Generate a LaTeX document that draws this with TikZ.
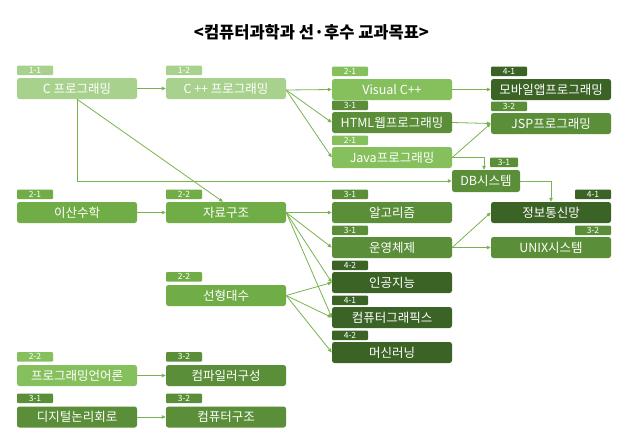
\documentclass[tikz,border=0pt]{standalone}
\usepackage{fontspec}
\setmainfont{Noto Sans CJK KR}
\usetikzlibrary{arrows.meta,calc}
\definecolor{yA}{HTML}{A9D18E}
\definecolor{yB}{HTML}{86C05C}
\definecolor{yBB}{HTML}{70AD47}
\definecolor{yC}{HTML}{5A8E38}
\definecolor{yD}{HTML}{3B6326}
\definecolor{ln}{HTML}{78B44E}
\begin{document}
\begin{tikzpicture}[x=1pt,y=-1pt,
  box/.style={rounded corners=2.5pt, minimum width=120pt, minimum height=21pt, inner sep=0pt, text=white, font=\fontsize{12.5}{13}\selectfont},
  tagbox/.style={rounded corners=1pt, minimum width=36pt, minimum height=9.5pt, inner sep=0pt, text=white, font=\fontsize{8.5}{8.5}\selectfont},
  arr/.style={draw=ln, line width=0.8pt, -{Triangle[length=4pt,width=3.5pt]}},
]
\useasboundingbox[fill=white] (0,0) rectangle (631,442);
\node[font=\bfseries\fontsize{16.5}{17}\selectfont] (title) at (311.5,32) {<컴퓨터과학과 선·후수 교과목표>};

\node[box, fill=yA] (c) at (77,88.5) {C 프로그래밍};
\node[box, fill=yA] (cpp) at (226,88.5) {C ++ 프로그래밍};
\node[box, fill=yB] (vc) at (392,89.5) {Visual C++};
\node[box, fill=yD] (mob) at (551,89.5) {모바일앱프로그래밍};
\node[box, fill=yC] (html) at (392,122.5) {HTML웹프로그래밍};
\node[box, fill=yC] (jsp) at (551,123.5) {JSP프로그래밍};
\node[box, fill=yB] (java) at (392,157.5) {Java프로그래밍};
\node[box, fill=yC, minimum width=68pt, minimum height=22pt] (db) at (486,181) {DB시스템};
\node[box, fill=yBB] (dm) at (77,212.5) {이산수학};
\node[box, fill=yBB] (ds) at (226,212.5) {자료구조};
\node[box, fill=yC] (algo) at (392,212.5) {알고리즘};
\node[box, fill=yD] (net) at (551,212.5) {정보통신망};
\node[box, fill=yC] (os) at (392,247.5) {운영체제};
\node[box, fill=yC] (unix) at (551,247.5) {UNIX시스템};
\node[box, fill=yD] (ai) at (392,282.5) {인공지능};
\node[box, fill=yBB] (la) at (226,295.5) {선형대수};
\node[box, fill=yD] (cg) at (392,317.5) {컴퓨터그래픽스};
\node[box, fill=yD] (ml) at (392,352.5) {머신러닝};
\node[box, fill=yB] (pl) at (77,375.5) {프로그래밍언어론};
\node[box, fill=yC] (comp) at (226,375.5) {컴파일러구성};
\node[box, fill=yC] (dl) at (77,417) {디지털논리회로};
\node[box, fill=yC] (arch) at (226,417) {컴퓨터구조};

\node[tagbox, fill=yA, anchor=south west] (tc) at ([yshift=2.5pt]c.north west) {1-1};
\node[tagbox, fill=yA, anchor=south west] (tcpp) at ([yshift=2.5pt]cpp.north west) {1-2};
\node[tagbox, fill=yB, anchor=south west] (tvc) at ([yshift=2.5pt]vc.north west) {2-1};
\node[tagbox, fill=yD, anchor=south west] (tmob) at ([yshift=2.5pt]mob.north west) {4-1};
\node[tagbox, fill=yC, anchor=south west] (thtml) at ([yshift=1.5pt]html.north west) {3-1};
\node[tagbox, fill=yC, anchor=south west] (tjsp) at ([yshift=1.5pt]jsp.north west) {3-2};
\node[tagbox, fill=yB, anchor=south west] (tjava) at ([yshift=1.5pt]java.north west) {2-1};
\node[tagbox, fill=yC, anchor=south east, minimum width=28pt] (tdb) at ([xshift=-2pt,yshift=2.5pt]db.north east) {3-1};
\node[tagbox, fill=yBB, anchor=south west] (tdm) at ([yshift=2.5pt]dm.north west) {2-1};
\node[tagbox, fill=yBB, anchor=south west] (tds) at ([yshift=2.5pt]ds.north west) {2-2};
\node[tagbox, fill=yC, anchor=south west] (talgo) at ([yshift=2.5pt]algo.north west) {3-1};
\node[tagbox, fill=yD, anchor=south east] (tnet) at ([yshift=2.5pt]net.north east) {4-1};
\node[tagbox, fill=yC, anchor=south west] (tos) at ([yshift=1.5pt]os.north west) {3-1};
\node[tagbox, fill=yC, anchor=south east] (tunix) at ([yshift=1.5pt]unix.north east) {3-2};
\node[tagbox, fill=yD, anchor=south west] (tai) at ([yshift=1.5pt]ai.north west) {4-2};
\node[tagbox, fill=yBB, anchor=south west] (tla) at ([yshift=3pt]la.north west) {2-2};
\node[tagbox, fill=yD, anchor=south west] (tcg) at ([yshift=1.5pt]cg.north west) {4-1};
\node[tagbox, fill=yD, anchor=south west] (tml) at ([yshift=1.5pt]ml.north west) {4-2};
\node[tagbox, fill=yB, anchor=south west] (tpl) at ([yshift=3pt]pl.north west) {2-2};
\node[tagbox, fill=yC, anchor=south west] (tcomp) at ([yshift=3pt]comp.north west) {3-2};
\node[tagbox, fill=yC, anchor=south west] (tdl) at ([yshift=3pt]dl.north west) {3-1};
\node[tagbox, fill=yC, anchor=south west] (tarch) at ([yshift=3pt]arch.north west) {3-2};

\draw[arr] (c.east) -- (cpp.west);
\draw[arr] (c.south) |- (db.west);
\draw[arr] (c.south) -- ([xshift=-3pt]ds.north);
\draw[arr] ([yshift=-1.5pt]cpp.east) -- (vc.west);
\draw[arr] ([yshift=-1.5pt]cpp.east) -- (html.west);
\draw[arr] ([yshift=-1.5pt]cpp.east) -- (java.west);
\draw[arr] (vc.east) -- (mob.west);
\draw[arr] (html.east) -- (jsp.west);
\draw[arr] (java.east) -- (jsp.west);
\draw[arr] (java.east) -| ([xshift=-2pt]db.north);
\draw[arr] (db.east) -| (net.north);
\draw[arr] (dm.east) -- (ds.west);
\draw[arr] (ds.east) -- (algo.west);
\draw[arr] (ds.east) -- (os.west);
\draw[arr] (ds.east) -- (ai.west);
\draw[arr] (ds.east) -- (cg.west);
\draw[arr] (la.east) -- (ai.west);
\draw[arr] (la.east) -- (cg.west);
\draw[arr] (la.east) -- (ml.west);
\draw[arr] (os.east) -- (net.west);
\draw[arr] (os.east) -- (unix.west);
\draw[arr] (pl.east) -- (comp.west);
\draw[arr] (dl.east) -- (arch.west);
\end{tikzpicture}
\end{document}
